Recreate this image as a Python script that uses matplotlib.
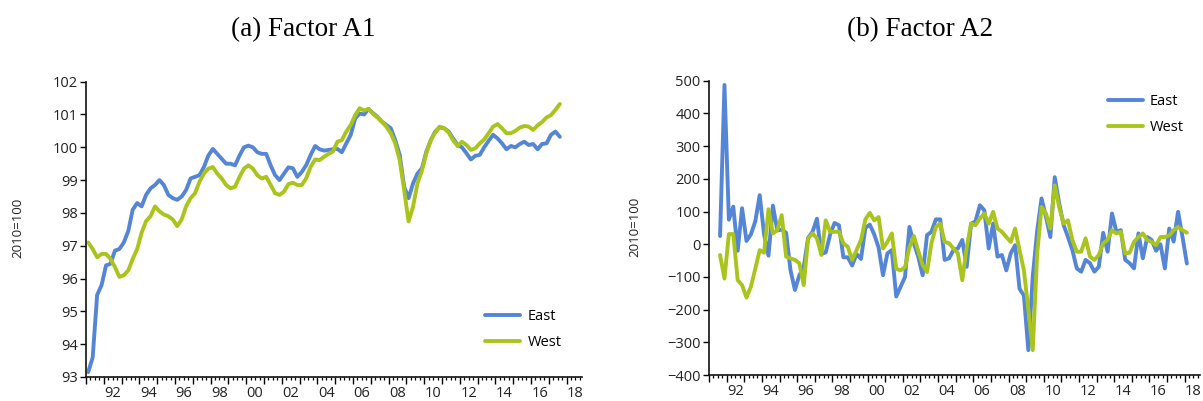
import numpy as np
import matplotlib
matplotlib.use("Agg")
import matplotlib.pyplot as plt
import matplotlib.ticker as plticker

plt.rcParams['font.family'] = ['Open Sans', 'DejaVu Sans']

# Factor A1, quarterly, 1991Q1 - 2017Q3 (index, 2010=100)
a1_east = [
    93.15, 93.6, 95.5, 95.8,
    96.4, 96.45, 96.85, 96.9,
    97.1, 97.45, 98.1, 98.3,
    98.2, 98.55, 98.75, 98.85,
    99.0, 98.85, 98.55, 98.45,
    98.4, 98.5, 98.7, 99.05,
    99.1, 99.15, 99.4, 99.75,
    99.95, 99.8, 99.65, 99.5,
    99.5, 99.45, 99.75, 100.0,
    100.05, 100.0, 99.85, 99.8,
    99.8, 99.45, 99.15, 99.0,
    99.2, 99.39, 99.36, 99.1,
    99.25, 99.46, 99.77, 100.04,
    99.94, 99.9, 99.92, 99.94,
    99.95, 99.85, 100.12, 100.38,
    100.88, 101.03, 101.0, 101.17,
    101.04, 100.93, 100.78, 100.68,
    100.58, 100.22, 99.77, 98.8,
    98.45, 98.9, 99.2, 99.36,
    99.87, 100.22, 100.48, 100.61,
    100.58, 100.48, 100.27, 100.07,
    100.0, 99.82, 99.63, 99.74,
    99.77, 100.0, 100.2, 100.38,
    100.27, 100.12, 99.94, 100.04,
    100.0, 100.1, 100.17, 100.07,
    100.1, 99.94, 100.1, 100.12,
    100.38, 100.48, 100.32,
]
a1_west = [
    97.1, 96.9, 96.65, 96.75,
    96.75, 96.6, 96.35, 96.05,
    96.1, 96.25, 96.6, 96.9,
    97.4, 97.75, 97.9, 98.2,
    98.05, 97.95, 97.9, 97.8,
    97.6, 97.8, 98.2, 98.45,
    98.6, 98.95, 99.2, 99.35,
    99.4, 99.2, 99.05, 98.85,
    98.75, 98.8, 99.1, 99.35,
    99.45, 99.35, 99.15, 99.05,
    99.1, 98.85, 98.6, 98.55,
    98.65, 98.88, 98.92, 98.85,
    98.85, 99.06, 99.41, 99.63,
    99.61, 99.71, 99.8, 99.87,
    100.17, 100.22, 100.48, 100.68,
    100.98, 101.19, 101.12, 101.17,
    101.02, 100.91, 100.78, 100.63,
    100.43, 100.12, 99.61, 98.7,
    97.74, 98.19, 98.9, 99.29,
    99.82, 100.22, 100.45, 100.63,
    100.58, 100.45, 100.22, 100.04,
    100.17, 100.07, 99.92, 99.97,
    100.12, 100.24, 100.43, 100.63,
    100.71, 100.58, 100.43, 100.43,
    100.5, 100.6, 100.65, 100.63,
    100.53, 100.67, 100.77, 100.91,
    100.98, 101.14, 101.32,
]

# Factor A2, quarterly, 1991Q3 - 2018Q1
a2_east = [
    25, 487,
    75, 115, -20, 110,
    10, 30, 70, 150,
    30, -35, 118, 42,
    45, 35, -80, -140,
    -95, -70, 20, 38,
    78, -30, -25, 30,
    65, 58, -40, -40,
    -65, -30, -45, 50,
    60, 30, -10, -95,
    -28, -18, -160, -130,
    -100, 53, 3, -38,
    -95, 28, 38, 76,
    76, -48, -43, -18,
    -13, 13, -69, 63,
    70, 119, 104, -13,
    63, -38, -33, -80,
    -28, -3, -136, -157,
    -324, -100, 40, 140,
    84, 22, 205, 125,
    59, 22, -18, -74,
    -84, -48, -58, -84,
    -69, 35, -23, 94,
    38, 43, -48, -58,
    -74, 33, -43, 22,
    13, -20, 0, -74,
    48, 8, 99, 23,
    -59,
]
a2_west = [
    -33, -105,
    31, 31, -110, -125,
    -163, -130, -75, -18,
    -26, 107, 33, 43,
    89, -38, -43, -48,
    -58, -125, 18, 33,
    18, -33, 73, 38,
    38, 38, 3, -8,
    -48, -18, 13, 76,
    96, 73, 83, -13,
    7, 33, -75, -80,
    -70, -10, 25, -20,
    -64, -85, 3, 53,
    63, 7, 3, -13,
    -28, -110, -10, 63,
    58, 79, 94, 63,
    99, 48, 38, 22,
    7, 48, -18, -80,
    -200, -324, -30, 114,
    94, 48, 180, 114,
    63, 73, 13, -23,
    -23, 18, -38, -48,
    -33, 3, 13, 43,
    33, 38, -28, -26,
    7, 22, 33, 13,
    7, -3, 22, 22,
    27, 43, 53, 43,
    35,
]

titles = ['(a) Factor A1', '(b) Factor A2']
series_names = ['East', 'West']
blue = '#5585d5'
green = '#aac41e'

# quarter midpoints as fractional years
t1 = 1991.125 + 0.25 * np.arange(len(a1_east))
t2 = 1991.625 + 0.25 * np.arange(len(a2_east))


def year_label(x, pos):
    half = x - 0.5
    if abs(half - round(half)) < 1e-6 and int(round(half)) % 2 == 0:
        return f"{int(round(half)) % 100:02d}"
    return ''


def style_axes(ax):
    for s in ['top', 'right']:
        ax.spines[s].set_visible(False)
    for s in ['left', 'bottom']:
        ax.spines[s].set_linewidth(1.2)
        ax.spines[s].set_color('#111111')
    ax.set_xlim(1991.0, 2018.87)
    ax.xaxis.set_major_locator(plticker.MultipleLocator(1.0))
    ax.xaxis.set_major_formatter(plticker.NullFormatter())
    ax.xaxis.set_minor_locator(plticker.MultipleLocator(0.25))
    ax.xaxis.set_minor_formatter(plticker.FuncFormatter(year_label))
    ax.tick_params(axis='x', which='major', direction='out', length=5, width=1.0)
    ax.tick_params(axis='x', which='minor', direction='out', length=2.5, width=0.9,
                   labelsize=10.5, pad=4, labelcolor='#222222')
    ax.tick_params(axis='y', which='major', direction='out', length=4, width=1.0,
                   labelsize=10.5, pad=2, labelcolor='#222222')
    ax.set_ylabel('2010=100', fontsize=9.5, color='#222222')


fig = plt.figure(figsize=(12.03, 4.01), dpi=100)
ax1 = fig.add_axes([0.0715, 0.0599, 0.4123, 0.7364])
ax2 = fig.add_axes([0.5894, 0.0648, 0.4081, 0.7339])

ax1.plot(t1, a1_east, color=blue, lw=2.8, label=series_names[0], solid_capstyle='round')
ax1.plot(t1, a1_west, color=green, lw=2.8, label=series_names[1], solid_capstyle='round')
ax1.set_ylim(93, 102)
ax1.yaxis.set_major_locator(plticker.MultipleLocator(1))
style_axes(ax1)
ax1.yaxis.set_label_coords(-0.125, 0.505)
ax1.legend(loc='upper left', bbox_to_anchor=(0.805, 0.23), frameon=False,
           fontsize=10.5, handlelength=2.4, handletextpad=0.5, labelspacing=0.75,
           borderpad=0, borderaxespad=0)

ax2.plot(t2, a2_east, color=blue, lw=2.8, label=series_names[0], solid_capstyle='round')
ax2.plot(t2, a2_west, color=green, lw=2.8, label=series_names[1], solid_capstyle='round')
ax2.set_ylim(-400, 500)
ax2.yaxis.set_major_locator(plticker.MultipleLocator(100))
style_axes(ax2)
ax2.yaxis.set_label_coords(-0.1385, 0.505)
ax2.legend(loc='upper left', bbox_to_anchor=(0.812, 0.955), frameon=False,
           fontsize=10.5, handlelength=2.4, handletextpad=0.5, labelspacing=0.75,
           borderpad=0, borderaxespad=0)

fig.text(303 / 1203, 1 - 30 / 401, titles[0], ha='center', va='center',
         fontsize=19.5, family='Liberation Serif')
fig.text(920 / 1203, 1 - 30 / 401, titles[1], ha='center', va='center',
         fontsize=19.5, family='Liberation Serif')

fig.savefig('out.png', dpi=100)
